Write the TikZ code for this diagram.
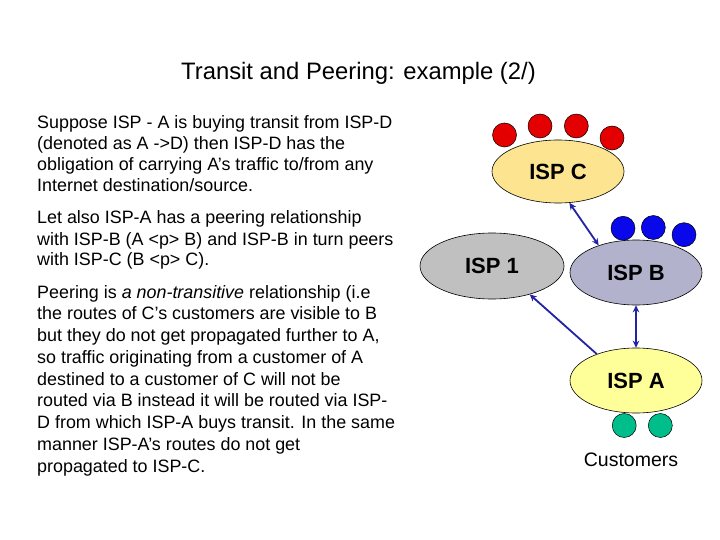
\documentclass[tikz,border=0pt]{standalone}
\usepackage{fontspec}
\setmainfont{Liberation Sans}
\usetikzlibrary{shapes.geometric,arrows.meta}
\definecolor{ispcfill}{RGB}{253,228,145}
\definecolor{isponefill}{RGB}{192,192,192}
\definecolor{ispbfill}{RGB}{178,178,204}
\definecolor{ispafill}{RGB}{255,255,153}
\definecolor{reddot}{RGB}{228,0,0}
\definecolor{bluedot}{RGB}{8,8,235}
\definecolor{greendot}{RGB}{0,190,140}
\definecolor{linkblue}{RGB}{35,35,165}
\begin{document}
\begin{tikzpicture}[x=1pt,y=-1pt,
  isp/.style={ellipse, draw=black, line width=0.6pt, inner sep=0pt,
    font=\fontsize{22}{26}\selectfont\bfseries},
  dot/.style={circle, draw=black, line width=0.5pt, minimum size=24pt, inner sep=0pt},
  link/.style={draw=linkblue, line width=1.8pt},
  tip/.tip={Stealth[length=7pt,width=6.5pt]},
  para/.style={anchor=base west, inner sep=0pt}]
\useasboundingbox[fill=white] (0,0) rectangle (720,540);

% title
\node[anchor=base, inner sep=0pt, font=\fontsize{23.8}{28}\selectfont] (title) at (358.5,79.3)
  {Transit and Peering: example (2/)};

% text paragraphs
\node[para] (p1) at (37,128.5) {\parbox[t]{400pt}{\fontsize{17.9}{21}\selectfont\raggedright
Suppose ISP - A is buying transit from ISP-D\\
(denoted as A ->D) then ISP-D has the\\
obligation of carrying A’s traffic to/from any\\
Internet destination/source.}};
\node[para] (p2) at (37,224) {\parbox[t]{400pt}{\fontsize{17.9}{21}\selectfont\raggedright
Let also ISP-A has a peering relationship\\
with ISP-B (A <p> B) and ISP-B in turn peers\\
with ISP-C (B <p> C).}};
\node[para] (p3) at (37,298) {\parbox[t]{400pt}{\fontsize{17.9}{21.75}\selectfont\raggedright
Peering is \textit{a non-transitive} relationship (i.e\\
the routes of C’s customers are visible to B\\
but they do not get propagated further to A,\\
so traffic originating from a customer of A\\
destined to a customer of C will not be\\
routed via B instead it will be routed via ISP-\\
D from which ISP-A buys transit. In the same\\
manner ISP-A’s routes do not get\\
propagated to ISP-C.}};

% customer dots
\node[dot, fill=reddot] (rc1) at (504.5,135) {};
\node[dot, fill=reddot] (rc2) at (540,126) {};
\node[dot, fill=reddot] (rc3) at (576.3,126) {};
\node[dot, fill=reddot] (rc4) at (612,138) {};
\node[dot, fill=bluedot] (bc1) at (623,228.3) {};
\node[dot, fill=bluedot] (bc2) at (653.3,227.5) {};
\node[dot, fill=bluedot] (bc3) at (684,234.7) {};
\node[dot, fill=greendot] (gc1) at (624.2,425.5) {};
\node[dot, fill=greendot] (gc2) at (660.3,425.5) {};

% ISPs
\node[isp, fill=ispcfill, minimum width=132pt, minimum height=63pt] (ispC) at (558,171.5) {ISP C};
\node[isp, fill=isponefill, minimum width=144pt, minimum height=66pt] (isp1) at (492,266) {ISP 1};
\node[isp, fill=ispbfill, minimum width=132pt, minimum height=65pt] (ispB) at (636,272.5) {ISP B};
\node[isp, fill=ispafill, minimum width=132pt, minimum height=65pt] (ispA) at (636,380.5) {ISP A};

\node[anchor=base, inner sep=0pt, font=\fontsize{19.5}{23}\selectfont] (cust) at (631,466.7) {Customers};

% links
\draw[link, {tip}-{tip}] (ispC.-70) -- (ispB.144);
\draw[link, {tip}-{tip}] (ispB.south) -- (ispA.north);
\draw[link, -{tip}] (ispA.146) -- (isp1.-37);
\end{tikzpicture}
\end{document}
